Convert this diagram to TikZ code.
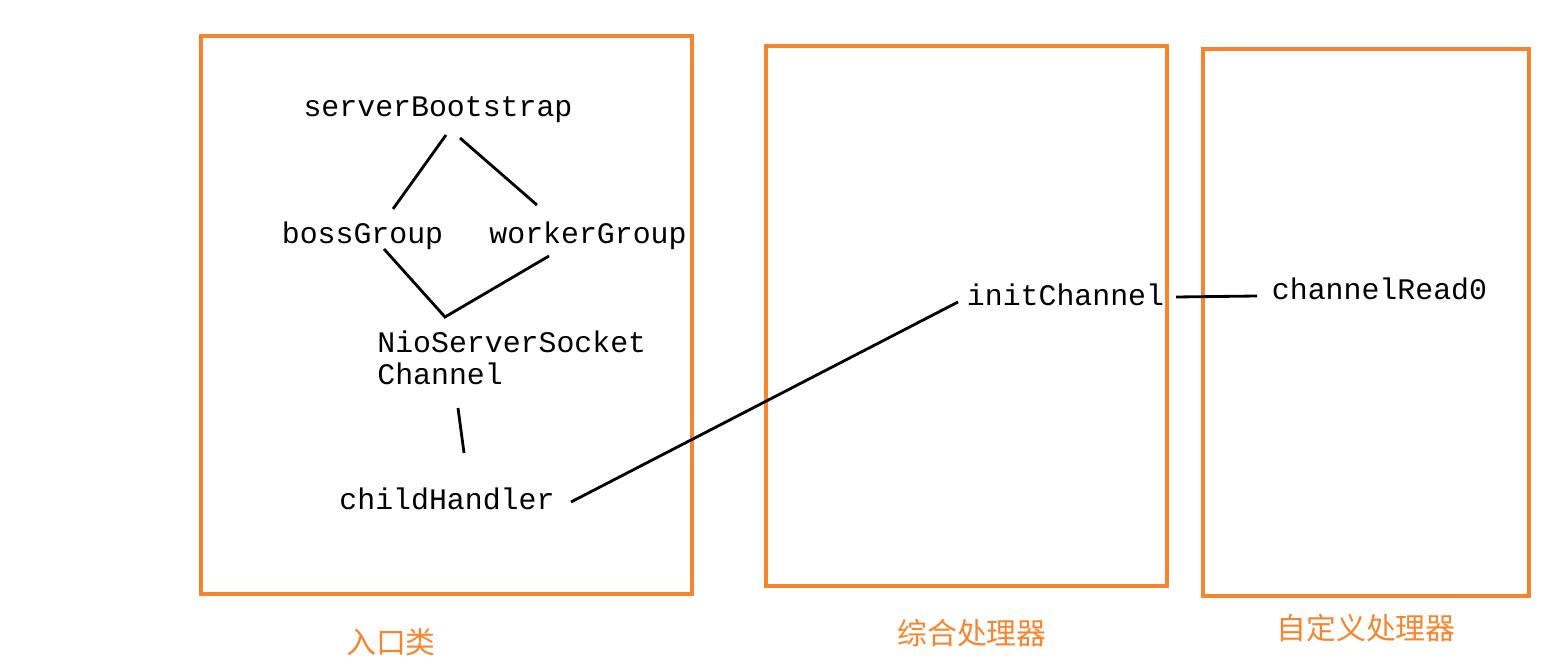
\documentclass[tikz,border=0pt]{standalone}
\usepackage{fontspec}
\setmonofont{Liberation Mono}
\newfontfamily\cjk{Noto Sans CJK SC}
\definecolor{boxorange}{RGB}{247,133,46}

\begin{document}
\begin{tikzpicture}[x=0.02cm,y=-0.02cm,
		box/.style={draw=boxorange,line width=2pt},
		term/.style={inner sep=0pt,font=\ttfamily\fontsize{17}{18.2}\selectfont},
		caption/.style={inner sep=0pt,text=boxorange,font=\cjk\fontsize{17}{20}\selectfont},
		link/.style={line width=1.6pt}]
			\useasboundingbox (0,0) rectangle (1549,658);
			\draw[box] (201,36) rectangle (692,594);
			\draw[box] (766,46) rectangle (1167,586);
			\draw[box] (1203,49) rectangle (1529,596);
			\node[caption] (entry) at (391,642) {入口类};
			\node[caption] (mixed) at (972,633) {综合处理器};
			\node[caption] (custom) at (1366,628) {自定义处理器};
			\node[term,anchor=base] (sb) at (438,117) {serverBootstrap};
			\node[term,anchor=base] (boss) at (362.5,244) {bossGroup};
			\node[term,anchor=base] (worker) at (588,244) {workerGroup};
			\node[term,anchor=north west,align=left] (nssc) at (377,331) {NioServerSocket\\Channel};
			\node[term,anchor=base] (child) at (447,510) {childHandler};
			\node[term,anchor=base] (init) at (1065.5,306) {initChannel};
			\node[term,anchor=base] (read) at (1379.5,300) {channelRead0};
			\draw[link] ([shift={(8,18)}]sb.base) -- ([shift={(30.5,-35)}]boss.base);
			\draw[link] ([shift={(22,21)}]sb.base) -- ([shift={(-51,-39)}]worker.base);
			\draw[link] ([shift={(21.5,5)}]boss.base) -- ([shift={(68,-14)}]nssc.north west) -- ([shift={(-39,12)}]worker.base);
			\draw[link] ([shift={(81,77)}]nssc.north west) -- ([shift={(17,-57)}]child.base);
			\draw[link] ([shift={(124,-8)}]child.base) -- ([shift={(-107.5,-4)}]init.base);
			\draw[link] ([shift={(110.5,-9)}]init.base) -- ([shift={(-122.5,-4)}]read.base);
		\end{tikzpicture}
\end{document}
